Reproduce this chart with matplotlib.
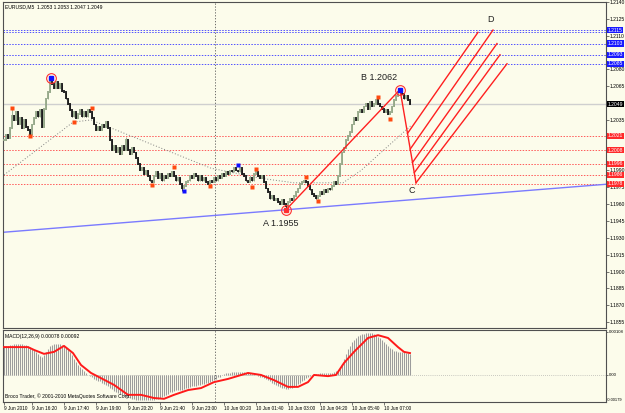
import numpy as np
import matplotlib.pyplot as plt
from matplotlib import transforms

plt.rcParams['font.family'] = ['Liberation Sans', 'DejaVu Sans']

bg = '#fcfceb'

# EURUSD M5 closes, one per bar
closes = [
    1.2017, 1.2022, 1.2019, 1.2028, 1.2039, 1.2035, 1.2042, 1.2031, 1.2037, 1.2028,
    1.2035, 1.2029, 1.2026, 1.2022, 1.2031, 1.2037, 1.2042, 1.2038, 1.2044, 1.2029,
    1.2045, 1.2054, 1.2060, 1.2070, 1.2067, 1.2063, 1.2069, 1.2063, 1.2067, 1.2061,
    1.2060, 1.2054, 1.2049, 1.2044, 1.2038, 1.2042, 1.2037, 1.2040, 1.2044, 1.2038,
    1.2042, 1.2038, 1.2044, 1.2042, 1.2037, 1.2031, 1.2026, 1.2029, 1.2026, 1.2031,
    1.2029, 1.2033, 1.2028, 1.2017, 1.2008, 1.2012, 1.2006, 1.2010, 1.2005, 1.2012,
    1.2008, 1.2017, 1.2008, 1.2005, 1.2010, 1.2006, 1.2001, 1.1996, 1.1990, 1.1992,
    1.1987, 1.1990, 1.1985, 1.1981, 1.1980, 1.1985, 1.1989, 1.1983, 1.1987, 1.1981,
    1.1985, 1.1983, 1.1987, 1.1985, 1.1989, 1.1985, 1.1981, 1.1983, 1.1978, 1.1974,
    1.1976, 1.1980, 1.1981, 1.1985, 1.1983, 1.1987, 1.1985, 1.1981, 1.1985, 1.1981,
    1.1983, 1.1980, 1.1978, 1.1981, 1.1980, 1.1983, 1.1981, 1.1985, 1.1983, 1.1987,
    1.1985, 1.1989, 1.1987, 1.1990, 1.1989, 1.1992, 1.1990, 1.1989, 1.1992, 1.1987,
    1.1985, 1.1981, 1.1980, 1.1983, 1.1981, 1.1987, 1.1989, 1.1985, 1.1983, 1.1985,
    1.1980, 1.1974, 1.1971, 1.1965, 1.1967, 1.1964, 1.1965, 1.1962, 1.1960, 1.1964,
    1.1960, 1.1958, 1.1962, 1.1965, 1.1964, 1.1967, 1.1971, 1.1974, 1.1978, 1.1980,
    1.1981, 1.1980, 1.1976, 1.1973, 1.1969, 1.1967, 1.1965, 1.1967, 1.1971, 1.1969,
    1.1973, 1.1971, 1.1974, 1.1973, 1.1976, 1.1980, 1.1978, 1.1985, 1.1996, 1.2006,
    1.2010, 1.2017, 1.2021, 1.2024, 1.2031, 1.2037, 1.2035, 1.2042, 1.2044, 1.2042,
    1.2047, 1.2049, 1.2045, 1.2051, 1.2047, 1.2049, 1.2053, 1.2049, 1.2047, 1.2045,
    1.2042, 1.2044, 1.2040, 1.2042, 1.2047, 1.2053, 1.2056, 1.2060, 1.2061, 1.2058,
    1.2054, 1.2056, 1.2053, 1.2049,
]
# wick extremes that stick out of the bodies
high_wicks = {4: 1.2045, 23: 1.2073, 61: 1.2020, 198: 1.2062}
low_wicks = {89: 1.1972, 141: 1.1955}

# dotted moving average
ma_bars = [0, 34.5, 43.5, 103.5, 128.5, 145, 169.5, 178.5, 203.5]
ma_vals = [1.1986, 1.2033, 1.2035, 1.1992, 1.1983, 1.1979, 1.1979, 1.1990, 1.2030]

# fractal dots
frac_bars = [4, 13, 35, 44, 74, 85, 103, 124, 126, 151, 157, 187, 193]
frac_vals = [1.2046, 1.2021, 1.2033, 1.2046, 1.1977, 1.1993, 1.1976, 1.1975, 1.1991,
             1.1984, 1.1963, 1.2055, 1.2036]
blue_bars = [90, 117]
blue_vals = [1.1972, 1.1995]

# horizontal levels
target_levels = [1.2115, 1.2113, 1.2103, 1.2093, 1.2085]
target_tags = [1.2115, 1.2103, 1.2093, 1.2085]
support_levels = [1.2021, 1.2008, 1.1996, 1.1986, 1.1978]
bid = 1.2049

# trend line anchors
trend_bars = [0, 141]
trend_vals = [1.1935, 1.1955]

# wave A-B-C and the fan toward D
wave_bars = [141, 198, 206]
wave_vals = [1.1955, 1.2062, 1.1979]
fan_start_bars = [201.75, 203.1, 204.2, 205.15, 206]
fan_start_vals = [1.2023, 1.2009, 1.1997, 1.1988, 1.1979]
fan_end_bars = [237, 244.5, 246.5, 248, 251.5]
fan_end_vals = [1.2113, 1.2115, 1.2103, 1.2093, 1.2085]

# scale labels that are not hidden under a price tag
price_ticks = [1.2140, 1.2125, 1.2110, 1.2080, 1.2065, 1.2035, 1.1990, 1.1975, 1.1960,
               1.1945, 1.1930, 1.1915, 1.1900, 1.1885, 1.1870, 1.1855]

# MACD histogram (x 1e-5) per bar
macd_hist = [
    72, 73, 74, 75, 76, 77, 78, 78, 78, 77, 76, 75, 73,
    70, 66, 62, 57, 52, 48, 46, 50, 58, 66, 72, 76,
    78, 79, 79, 78, 76, 74, 70, 64, 57, 49, 41, 33,
    26, 20, 14, 9, 4, 0, -3, -6, -9, -12, -14, -16,
    -19, -22, -25, -28, -32, -36, -40, -43, -46, -48, -51, -53,
    -54, -56, -58, -60, -61, -62, -63, -64, -64, -64, -63, -63,
    -63, -62, -62, -61, -60, -58, -56, -53, -50, -47, -44, -42,
    -40, -39, -38, -38, -37, -36, -34, -32, -30, -29, -28, -27,
    -26, -25, -23, -22, -21, -20, -18, -15, -12, -9, -6, -4,
    -1, 2, 4, 5, 6, 7, 8, 8, 8, 8, 7, 7,
    6, 5, 4, 3, 2, 0, -2, -4, -6, -8, -10, -13,
    -16, -19, -22, -25, -28, -30, -32, -34, -35, -35, -34, -32,
    -30, -27, -23, -19, -15, -12, -8, -5, -2, 0, 2, 3,
    3, 4, 4, 5, 5, 5, 5, 6, 7, 9, 12, 18,
    28, 40, 52, 64, 74, 82, 88, 93, 97, 100, 102, 104,
    105, 106, 106, 105, 103, 100, 96, 92, 88, 83, 78, 73,
    68, 64, 61, 59, 58, 58, 58, 57, 56, 55, 52,
]
sig_bars = [0, 12, 15, 20, 25, 30, 34.5, 38.5, 43.5, 48.5, 55, 62, 68.5, 75, 80, 85, 92,
            98.5, 105, 112, 122, 128.5, 135, 142, 147, 152, 155, 162, 166, 170, 175, 182,
            187, 192, 197, 200, 203]
sig_vals = [70, 70, 63, 53, 58, 73, 55, 25, 5, -8, -25, -50, -50, -58, -60, -50, -38,
            -33, -18, -10, 5, 0, -13, -30, -30, -18, 0, -3, 0, 30, 58, 93,
            100, 93, 70, 58, 55]

date_bars = [0, 14, 30, 46, 62, 78, 94, 110, 126, 142, 158, 174, 190]
date_labels = ['9 Jun 2010', '9 Jun 16:20', '9 Jun 17:40', '9 Jun 19:00', '9 Jun 20:20',
               '9 Jun 21:40', '9 Jun 23:00', '10 Jun 00:20', '10 Jun 01:40', '10 Jun 03:00',
               '10 Jun 04:20', '10 Jun 05:40', '10 Jun 07:00']
day_break = 105.5

fs = 3.6

fig = plt.figure(figsize=(6.25, 4.13), dpi=100, facecolor=bg)
ax = fig.add_axes([3 / 625, 85 / 413, 603 / 625, 326 / 413], facecolor=bg)
ax2 = fig.add_axes([3 / 625, 11 / 413, 603 / 625, 72 / 413], facecolor=bg)

# candles
c = np.array(closes)
o = np.r_[c[0], c[:-1]]
hi = np.maximum(o, c)
lo = np.minimum(o, c)
for k, v in high_wicks.items():
    hi[k] = v
for k, v in low_wicks.items():
    lo[k] = v
idx = np.arange(len(c))
up = c >= o
bull, bear = '#95a889', '#1a1a1a'
cols = np.where(up, bull, bear)
ax.vlines(idx, lo, hi, colors=cols, lw=0.6, zorder=3)
ax.vlines(idx, np.minimum(o, c) - 0.00008, np.maximum(o, c) + 0.00008, colors=cols,
          lw=1.3, zorder=3)

# levels
for lv in target_levels:
    ax.axhline(lv, color='#5050ff', lw=0.7, ls=(0, (1.5, 1.5)), zorder=2)
for lv in support_levels:
    ax.axhline(lv, color='#ff5a5a', lw=0.7, ls=(0, (1.5, 1.5)), zorder=2)
ax.axhline(bid, color='#cfcfcf', lw=1.0, zorder=1)
ax.axvline(day_break, color='#555555', lw=0.6, ls=(0, (1.5, 2)), zorder=1)
ax2.axvline(day_break, color='#555555', lw=0.6, ls=(0, (1.5, 2)), zorder=1)

ax.axline((trend_bars[0], trend_vals[0]), (trend_bars[1], trend_vals[1]),
          color='#7a7aff', lw=1.0, zorder=2)
ax.plot(ma_bars, ma_vals, color='#808080', lw=0.7, ls=(0, (1, 2)), zorder=2)

ax.plot(wave_bars, wave_vals, color='#ff2020', lw=1.0, zorder=4)
for b0, v0, b1, v1 in zip(fan_start_bars, fan_start_vals, fan_end_bars, fan_end_vals):
    ax.plot([b0, b1], [v0, v1], color='#ff2020', lw=1.0, zorder=4)

ax.plot(frac_bars, frac_vals, 's', ms=2.6, color='#ff4a10', mec='none', zorder=5)
ax.plot(blue_bars, blue_vals, 's', ms=2.6, color='#1010ff', mec='none', zorder=5)

# swing markers
ax.plot([23.5], [1.2072], 'o', ms=7, mfc='none', mec='#ff3030', mew=0.8, zorder=6)
ax.plot([23.5], [1.2072], 's', ms=3, color='#1010ff', zorder=6)
ax.plot([141], [1.1955], 'o', ms=7, mfc='none', mec='#ff3030', mew=0.8, zorder=6)
ax.plot([141], [1.1955], 's', ms=3, color='#ff3030', zorder=6)
ax.plot([198], [1.2062], 'o', ms=7, mfc='none', mec='#ff3030', mew=0.8, zorder=6)
ax.plot([198], [1.2062], 's', ms=3, color='#1010ff', zorder=6)

lab = dict(fontsize=6.5, color='#202020', zorder=7)
ax.text(wave_bars[0] - 2.5, wave_vals[0] - 0.0012, 'A 1.1955', ha='center', va='center', **lab)
ax.text(wave_bars[1] - 10.5, wave_vals[1] + 0.0011, 'B 1.2062', ha='center', va='center', **lab)
ax.text(wave_bars[2] - 2, wave_vals[2] - 0.0007, 'C', ha='center', va='center', **lab)
ax.text(fan_end_bars[1] - 1, 1.2124, 'D', ha='center', va='center', **lab)

ax.text(0.003, 0.992, 'EURUSD,M5  1.2053 1.2053 1.2047 1.2049', transform=ax.transAxes,
        fontsize=fs, va='top', ha='left')

ax.set_xlim(-0.5, 301)
ax.set_ylim(1.18497, 1.21397)
ax2.set_xlim(-0.5, 301)
ax2.set_ylim(-0.00068, 0.00113)

tick_kw = dict(labelsize=fs, length=2, width=0.5, color='#404040', pad=0.8)
ax.yaxis.tick_right()
ax.set_yticks(price_ticks)
ax.set_yticklabels(['%.4f' % t for t in price_ticks])
ax.tick_params(axis='y', **tick_kw)
ax.set_xticks([])

# price tags on the right scale
tr = transforms.blended_transform_factory(ax.transAxes, ax.transData)
tag = dict(transform=tr, fontsize=fs, color='white', ha='left', va='center', zorder=8,
           clip_on=False)
for lv in target_tags:
    ax.text(1.003, lv, '%.4f' % lv, bbox=dict(boxstyle='square,pad=0.12', fc='#1a1aff', ec='none'), **tag)
for lv in support_levels:
    ax.text(1.003, lv, '%.4f' % lv, bbox=dict(boxstyle='square,pad=0.12', fc='#ff2a2a', ec='none'), **tag)
ax.text(1.003, bid, '%.4f' % bid, bbox=dict(boxstyle='square,pad=0.12', fc='black', ec='none'), **tag)

# MACD
ax2.vlines(idx, 0, np.array(macd_hist) * 1e-5, colors='#9c9c9c', lw=0.75, zorder=2)
ax2.plot(sig_bars, np.array(sig_vals) * 1e-5, color='#ff1a1a', lw=1.4, zorder=3)
ax2.axhline(0, color='#9a9a9a', lw=0.5, ls=(0, (1, 2)), zorder=1)
ax2.yaxis.tick_right()
ax2.set_yticks([0.00108, 0.0])
ax2.set_yticklabels(['0.00108', '0.00'])
ax2.tick_params(axis='y', labelsize=3.1, length=1.5, width=0.5, color='#404040', pad=0.5)
ax2.text(1.002, 0.03, '-0.00179', transform=ax2.transAxes, fontsize=2.9,
         va='center', ha='left')
ax2.text(0.003, 0.95, 'MACD(12,26,9) 0.00078 0.00092', transform=ax2.transAxes,
         fontsize=fs, va='top', ha='left')
ax2.text(0.003, 0.04, 'Broco Trader, \u00a9 2001-2010 MetaQuotes Software Corp.',
         transform=ax2.transAxes, fontsize=fs, va='bottom', ha='left')

ax2.set_xticks(date_bars)
ax2.set_xticklabels(date_labels, ha='left')
ax2.tick_params(axis='x', labelsize=fs - 0.2, length=2, width=0.5, color='#404040', pad=0.8)

for a in (ax, ax2):
    for s in a.spines.values():
        s.set_color('#505050')
        s.set_linewidth(0.8)

fig.savefig('out.png', dpi=100, facecolor=bg)
